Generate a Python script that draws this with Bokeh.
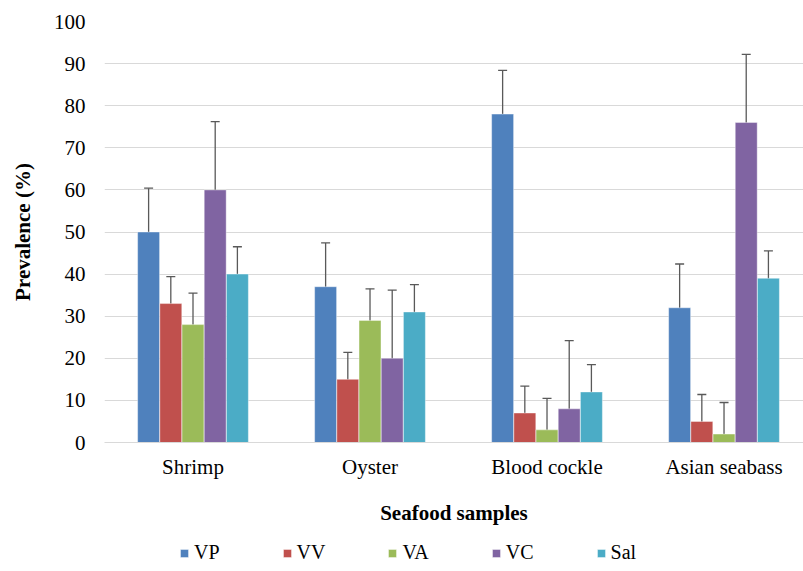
from bokeh.plotting import figure
from bokeh.layouts import column
from bokeh.models import (ColumnDataSource, Range1d, FixedTicker, Whisker, TeeHead,
                          Legend, LegendItem)
from bokeh.embed import file_html
from bokeh.resources import INLINE

categories = ["Shrimp", "Oyster", "Blood cockle", "Asian seabass"]
series_names = ["VP", "VV", "VA", "VC", "Sal"]
VP = [50, 37, 78, 32]
VV = [33, 15, 7, 5]
VA = [28, 29, 3, 2]
VC = [60, 20, 8, 76]
Sal = [40, 31, 12, 39]
VP_err = [10.4, 10.4, 10.4, 10.4]
VV_err = [6.4, 6.4, 6.4, 6.4]
VA_err = [7.5, 7.5, 7.5, 7.5]
VC_err = [16.2, 16.2, 16.2, 16.2]
Sal_err = [6.5, 6.5, 6.5, 6.5]
y_ticks = [0, 10, 20, 30, 40, 50, 60, 70, 80, 90, 100]

values = [VP, VV, VA, VC, Sal]
errors = [VP_err, VV_err, VA_err, VC_err, Sal_err]
colors = ["#4F81BD", "#C0504D", "#9BBB59", "#8064A2", "#4BACC6"]

FONT = "Liberation Serif"
step = 0.1254
bar_w = 0.124
ECOL = "#595959"

p = figure(frame_width=699, frame_height=421, x_range=Range1d(-0.5, 3.449), y_range=Range1d(0, 100),
           output_backend="svg", toolbar_location=None,
           min_border_left=104, min_border_right=0, min_border_top=21, min_border_bottom=88)
p.outline_line_color = None
p.background_fill_color = "white"
p.xgrid.visible = False
p.ygrid.grid_line_color = "#D9D9D9"
p.ygrid.grid_line_width = 1

p.yaxis.ticker = FixedTicker(ticks=y_ticks)
p.yaxis.axis_line_color = None
p.yaxis.major_tick_line_color = None
p.yaxis.major_tick_out = 0
p.yaxis.major_tick_in = 0
p.yaxis.minor_tick_line_color = None
p.yaxis.major_label_standoff = 19
p.yaxis.major_label_text_font = FONT
p.yaxis.major_label_text_font_size = "21px"
p.yaxis.major_label_text_color = "black"
p.yaxis.axis_label = "Prevalence (%)"
p.yaxis.axis_label_text_font = FONT
p.yaxis.axis_label_text_font_style = "bold"
p.yaxis.axis_label_text_font_size = "21px"
p.yaxis.axis_label_text_color = "black"
p.yaxis.axis_label_standoff = 16

p.xaxis.ticker = FixedTicker(ticks=list(range(len(categories))))
p.xaxis.major_label_overrides = {i: c for i, c in enumerate(categories)}
p.xaxis.axis_line_color = "#D9D9D9"
p.xaxis.major_tick_line_color = None
p.xaxis.major_tick_out = 0
p.xaxis.major_tick_in = 0
p.xaxis.minor_tick_line_color = None
p.xaxis.major_label_standoff = 12
p.xaxis.major_label_text_font = FONT
p.xaxis.major_label_text_font_size = "21px"
p.xaxis.major_label_text_color = "black"
p.xaxis.axis_label = "Seafood samples"
p.xaxis.axis_label_text_font = FONT
p.xaxis.axis_label_text_font_style = "bold"
p.xaxis.axis_label_text_font_size = "21px"
p.xaxis.axis_label_text_color = "black"
p.xaxis.axis_label_standoff = 19

# strip below the chart that holds the legend (its ranges show none of the bars)
lg = figure(width=803, height=41, output_backend="svg", toolbar_location=None,
            x_axis_location=None, y_axis_location=None,
            x_range=Range1d(100, 110), y_range=Range1d(1000, 1010),
            min_border_left=0, min_border_right=0, min_border_top=0, min_border_bottom=0)
lg.outline_line_color = None
lg.xgrid.visible = False
lg.ygrid.visible = False

items = []
for k, (name, vals, errs, col) in enumerate(zip(series_names, values, errors, colors)):
    off = (k - 2) * step
    xs = [i + off for i in range(len(categories))]
    src = ColumnDataSource(dict(x=xs, top=vals))
    p.vbar(x="x", top="top", width=bar_w, bottom=0, source=src,
           fill_color=col, line_color="white", line_alpha=0.5, line_width=0.8)
    key = lg.vbar(x="x", top="top", width=bar_w, bottom=0, source=src,
                  fill_color=col, line_color="white", line_alpha=0.5, line_width=0.8)
    items.append(LegendItem(label=name, renderers=[key]))
    nx, nu, nl, cx, cu, cl = [], [], [], [], [], []
    for x, v, e in zip(xs, vals, errs):
        if v - e >= 0:
            nx.append(x); nu.append(v + e); nl.append(v - e)
        else:
            cx.append(x); cu.append(v + e); cl.append(0)
    if nx:
        w = Whisker(source=ColumnDataSource(dict(base=nx, upper=nu, lower=nl)),
                    base="base", upper="upper", lower="lower", dimension="height",
                    line_color=ECOL, line_width=1.3,
                    upper_head=TeeHead(size=9, line_color=ECOL, line_width=1.3),
                    lower_head=TeeHead(size=9, line_color=ECOL, line_width=1.3))
        p.add_layout(w)
    if cx:
        w = Whisker(source=ColumnDataSource(dict(base=cx, upper=cu, lower=cl)),
                    base="base", upper="upper", lower="lower", dimension="height",
                    line_color=ECOL, line_width=1.3,
                    upper_head=TeeHead(size=9, line_color=ECOL, line_width=1.3),
                    lower_head=None)
        p.add_layout(w)

legend = Legend(items=items, orientation="horizontal", location=(75, 7),
                glyph_width=10, glyph_height=10, label_standoff=5, label_width=0,
                spacing=62, padding=5, margin=0,
                label_text_font=FONT, label_text_font_size="20px", label_text_color="black",
                border_line_color=None, background_fill_alpha=0)
lg.add_layout(legend, "center")

layout = column(p, lg, spacing=0)
open("out.html", "w").write(file_html(layout, INLINE))
